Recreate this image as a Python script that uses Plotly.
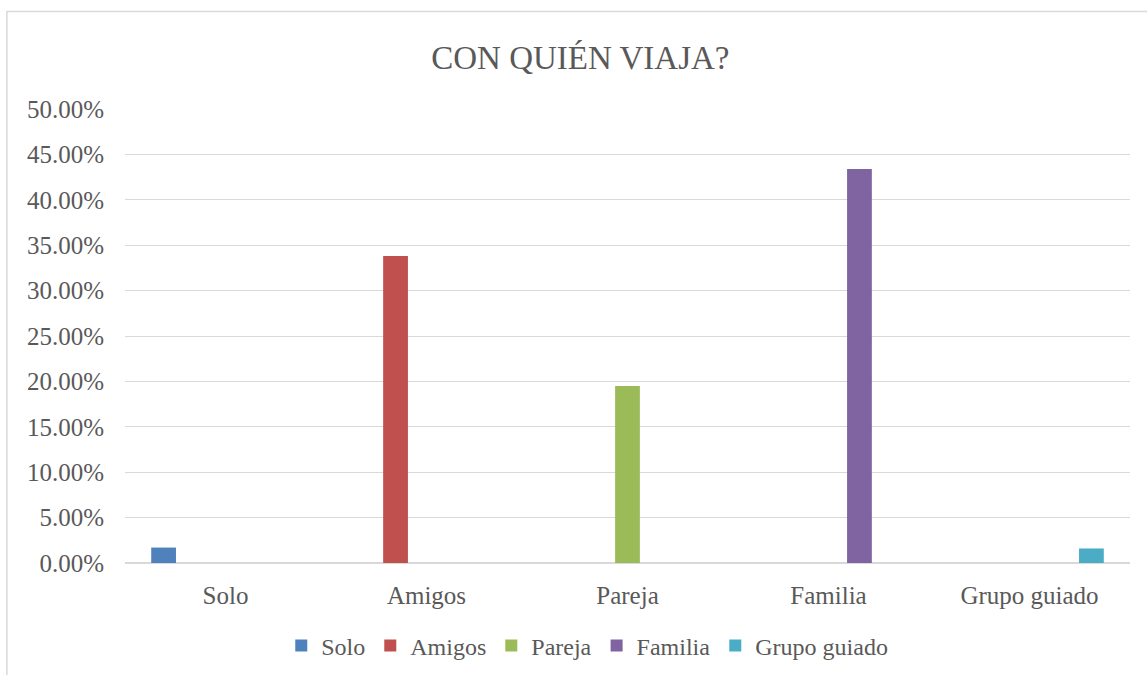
import plotly.graph_objects as go

# categories and share of answers per category
categories = ["Solo", "Amigos", "Pareja", "Familia", "Grupo guiado"]
solo = [0.017, None, None, None, None]
amigos = [None, 0.338, None, None, None]
pareja = [None, None, 0.195, None, None]
familia = [None, None, None, 0.434, None]
grupo_guiado = [None, None, None, None, 0.016]

series = [
    ("Solo", solo, "#4F81BD"),
    ("Amigos", amigos, "#C0504D"),
    ("Pareja", pareja, "#9BBB59"),
    ("Familia", familia, "#8064A2"),
    ("Grupo guiado", grupo_guiado, "#4BACC6"),
]

FONT = "Liberation Serif"
GREY = "#595959"

fig = go.Figure()
for name, values, color in series:
    fig.add_trace(go.Bar(x=categories, y=values, name=name, marker_color=color,
                         marker_line_width=0))

fig.update_layout(
    width=1147,
    height=675,
    paper_bgcolor="white",
    plot_bgcolor="white",
    barmode="group",
    bargap=0.23,
    bargroupgap=0.2,
    margin=dict(l=125, r=17, t=109, b=112),
    font=dict(family=FONT, color=GREY),
    title=dict(text="CON QUIÉN VIAJA?", x=0.506, xanchor="center", y=0.9156,
               yanchor="middle", font=dict(family=FONT, size=33, color=GREY)),
    legend=dict(orientation="h", xref="container", yref="container",
                x=0.512, xanchor="center", y=0.043, yanchor="middle",
                font=dict(family=FONT, size=24, color=GREY),
                itemwidth=30, traceorder="normal"),
    shapes=[dict(type="rect", xref="paper", yref="paper", x0=-0.1175, x1=1.03,
                 y0=-0.3, y1=1.215, line=dict(color="#D9D9D9", width=1.5),
                 layer="below")],
)
fig.update_xaxes(showgrid=False, showline=False, ticks="", ticklen=0,
                 automargin=False, ticklabelstandoff=15,
                 tickfont=dict(family=FONT, size=25, color=GREY))
fig.update_yaxes(range=[0, 0.5], dtick=0.05, tickformat=".2%",
                 gridcolor="#D9D9D9", gridwidth=1, zeroline=True,
                 zerolinecolor="#D9D9D9", zerolinewidth=2, showline=False,
                 automargin=False, ticklabelstandoff=20,
                 tickfont=dict(family=FONT, size=25, color=GREY))

fig.write_html("out.html", config={"displayModeBar": False},
               post_script="document.body.style.margin='0px';")
